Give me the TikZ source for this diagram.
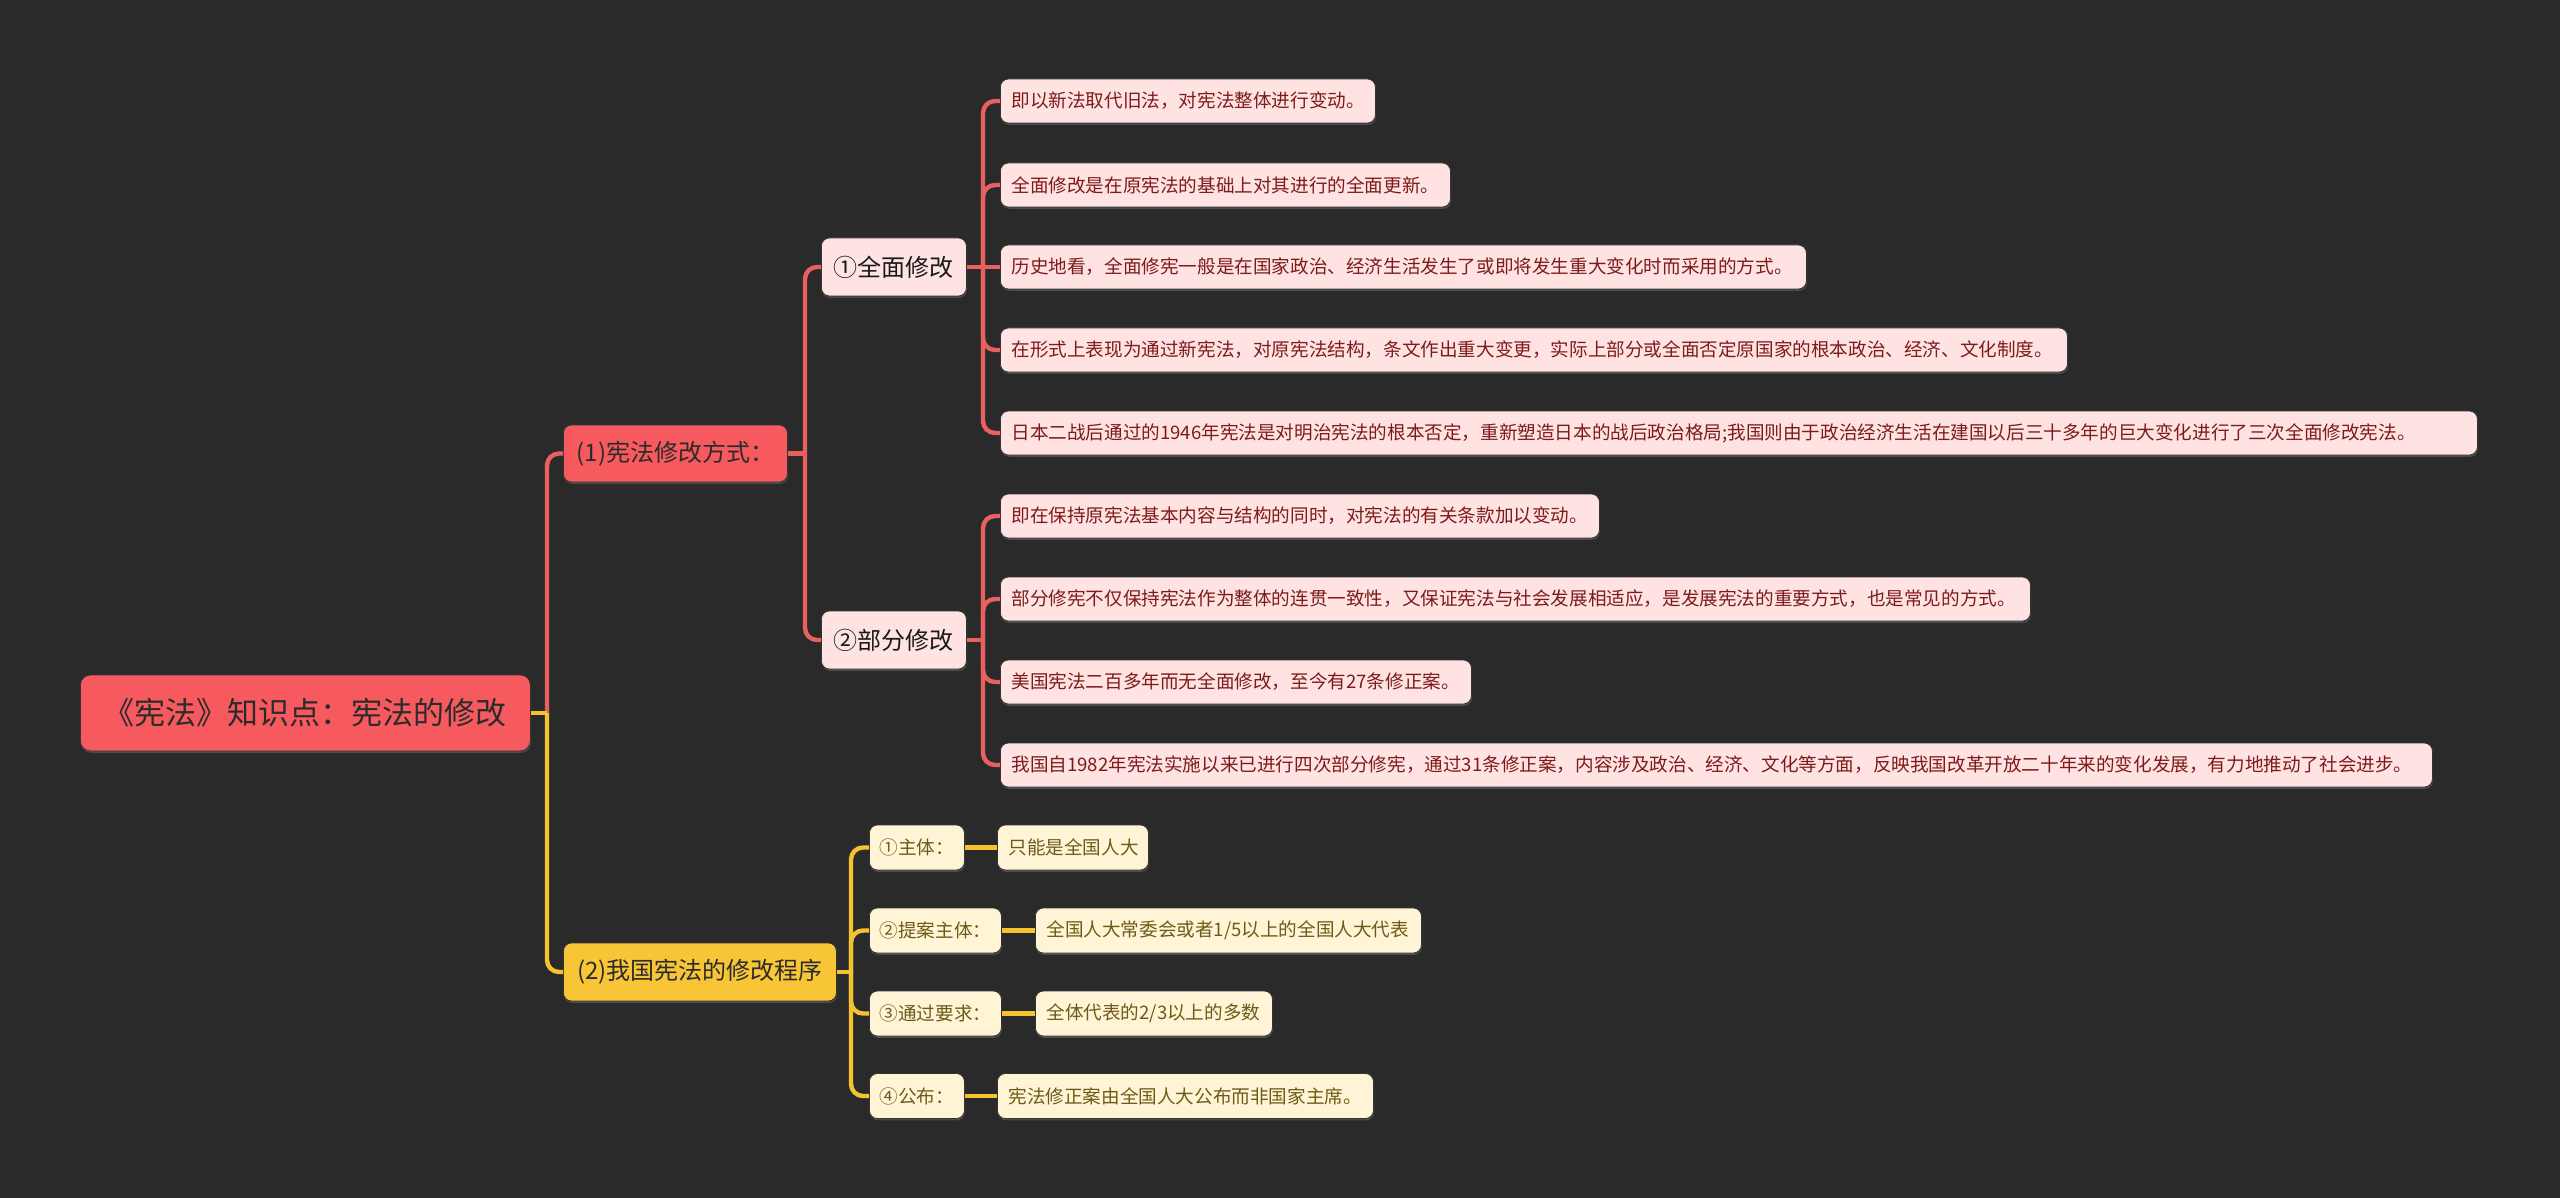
\documentclass[tikz,border=0pt]{standalone}
\usepackage{fontspec}
\newfontfamily\cjk{Noto Sans CJK SC}
\usetikzlibrary{shadows}
\definecolor{bg}{HTML}{2A2A2A}
\definecolor{rootfill}{HTML}{F65A5E}
\definecolor{redline}{HTML}{E8615F}
\definecolor{yelline}{HTML}{F4C430}
\definecolor{pinkfill}{HTML}{FFE3E3}
\definecolor{leaftext}{HTML}{7D1B1B}
\definecolor{yelfill}{HTML}{F8C537}
\definecolor{creamfill}{HTML}{FFF5D6}
\definecolor{olivetext}{HTML}{6E5A17}
\definecolor{darktext}{HTML}{2B2B2B}
\newcommand\fw[2]{\makebox[#1pt][l]{#2}}
\begin{document}
\begin{tikzpicture}[x=0.5pt,y=-0.5pt,
  box/.style={rounded corners=4pt, draw=black!80, line width=0.4pt,
    general shadow={fill=black!70, shadow xshift=0.3pt, shadow yshift=-0.9pt},
    inner ysep=0pt, anchor=west},
  rootbox/.style={box, fill=rootfill, text=darktext, minimum height=38pt, rounded corners=5pt,
    font=\cjk\fontsize{15.5}{18}\selectfont},
  lonebox/.style={box, fill=rootfill, text=darktext, minimum height=28.5pt,
    font=\cjk\fontsize{12}{14}\selectfont},
  loney/.style={box, fill=yelfill, text=darktext, minimum height=29pt,
    font=\cjk\fontsize{12}{14}\selectfont},
  ltwobox/.style={box, fill=pinkfill, text=black!90, minimum height=29pt,
    font=\cjk\fontsize{12}{14}\selectfont},
  leafbox/.style={box, fill=pinkfill, text=leaftext, minimum height=22pt, inner xsep=5.5pt,
    font=\cjk\fontsize{9.3}{11}\selectfont},
  ychild/.style={box, fill=creamfill, text=olivetext, minimum height=22.5pt,
    font=\cjk\fontsize{9.3}{11}\selectfont},
  yleaf/.style={ychild, inner xsep=5.5pt},
  rl/.style={draw=redline, line width=2.2pt, rounded corners=6pt},
  yl/.style={draw=yelline, line width=2.2pt, rounded corners=6pt}]
\fill[bg] (0,0) rectangle (2560,1198);
\useasboundingbox (0,0) rectangle (2560,1198);

% nodes
\node[rootbox, minimum width=225pt] (root) at (80,713) {《宪法》知识点：宪法的修改};
\node[lonebox, minimum width=112pt] (m1) at (563,453.5) {(1)宪法修改方式：};
\node[loney, minimum width=136.5pt] (m2) at (563,972) {(2)我国宪法的修改程序};
\node[ltwobox, minimum width=72.5pt] (a) at (821,267) {①全面修改};
\node[ltwobox, minimum width=72.5pt] (b) at (821,640) {②部分修改};

\node[leafbox] (a1) at (1000,101) {\fw{176.5}{即以新法取代旧法，对宪法整体进行变动。}};
\node[leafbox] (a2) at (1000,185) {\fw{214}{全面修改是在原宪法的基础上对其进行的全面更新。}};
\node[leafbox] (a3) at (1000,267) {\fw{392}{历史地看，全面修宪一般是在国家政治、经济生活发生了或即将发生重大变化时而采用的方式。}};
\node[leafbox] (a4) at (1000,350) {\fw{522.5}{在形式上表现为通过新宪法，对原宪法结构，条文作出重大变更，实际上部分或全面否定原国家的根本政治、经济、文化制度。}};
\node[leafbox] (a5) at (1000,433) {\fw{727.5}{日本二战后通过的1946年宪法是对明治宪法的根本否定，重新塑造日本的战后政治格局;我国则由于政治经济生活在建国以后三十多年的巨大变化进行了三次全面修改宪法。}};

\node[leafbox] (b1) at (1000,516) {\fw{288.5}{即在保持原宪法基本内容与结构的同时，对宪法的有关条款加以变动。}};
\node[leafbox] (b2) at (1000,599) {\fw{504}{部分修宪不仅保持宪法作为整体的连贯一致性，又保证宪法与社会发展相适应，是发展宪法的重要方式，也是常见的方式。}};
\node[leafbox] (b3) at (1000,682) {\fw{224.5}{美国宪法二百多年而无全面修改，至今有27条修正案。}};
\node[leafbox] (b4) at (1000,765) {\fw{705}{我国自1982年宪法实施以来已进行四次部分修宪，通过31条修正案，内容涉及政治、经济、文化等方面，反映我国改革开放二十年来的变化发展，有力地推动了社会进步。}};

\node[ychild, minimum width=47.5pt] (c1) at (869,847.5) {①主体：};
\node[ychild, minimum width=66pt] (c2) at (869,930.5) {②提案主体：};
\node[ychild, minimum width=66pt] (c3) at (869,1013.5) {③通过要求：};
\node[ychild, minimum width=47.5pt] (c4) at (869,1096) {④公布：};

\node[yleaf] (d1) at (997,847.5) {\fw{64.5}{只能是全国人大}};
\node[yleaf] (d2) at (1035,930.5) {\fw{182}{全国人大常委会或者1/5以上的全国人大代表}};
\node[yleaf] (d3) at (1035,1013.5) {\fw{107.5}{全体代表的2/3以上的多数}};
\node[yleaf] (d4) at (997,1096) {\fw{177}{宪法修正案由全国人大公布而非国家主席。}};

% trunk points
\coordinate (t0) at (547,713);
\coordinate (t1) at (805,453.5);
\coordinate (ta) at (983,267);
\coordinate (tb) at (983,640);
\coordinate (t2) at (851,972);

% connectors
\draw[rl] (t0) |- (m1.west);
\draw[yl] (root.east) -- (t0);
\draw[yl] (t0) |- (m2.west);

\draw[rl] (m1.east) -- (t1);
\draw[rl] (t1) |- (a.west);
\draw[rl] (t1) |- (b.west);

\draw[rl] (a.east) -- (ta);
\draw[rl] (ta) |- (a1.west);
\draw[rl] (ta) |- (a2.west);
\draw[rl] (ta) -- (a3.west);
\draw[rl] (ta) |- (a4.west);
\draw[rl] (ta) |- (a5.west);

\draw[rl] (b.east) -- (tb);
\draw[rl] (tb) |- (b1.west);
\draw[rl] (tb) |- (b2.west);
\draw[rl] (tb) |- (b3.west);
\draw[rl] (tb) |- (b4.west);

\draw[yl] (m2.east) -- (t2);
\draw[yl] (t2) |- (c1.west);
\draw[yl] (t2) |- (c2.west);
\draw[yl] (t2) |- (c3.west);
\draw[yl] (t2) |- (c4.west);

\draw[yl] (c1.east) -- (d1.west);
\draw[yl] (c2.east) -- (d2.west);
\draw[yl] (c3.east) -- (d3.west);
\draw[yl] (c4.east) -- (d4.west);
\end{tikzpicture}
\end{document}
